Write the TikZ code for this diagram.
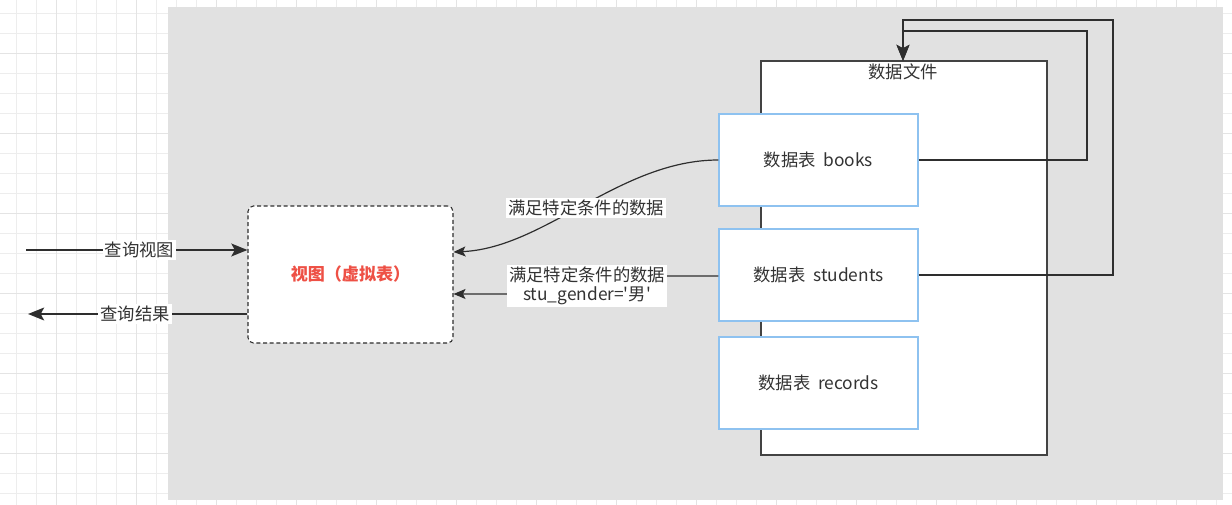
\documentclass[tikz,border=0pt]{standalone}
\usepackage{fontspec}
\newfontfamily\cjkf{Noto Sans CJK SC}
\usetikzlibrary{arrows.meta}
\definecolor{bggray}{HTML}{E1E1E1}
\definecolor{gridc}{HTML}{EDEDED}
\definecolor{gridt}{HTML}{E4E4E4}
\definecolor{ink}{HTML}{2E2E2E}
\definecolor{txt}{HTML}{333333}
\definecolor{tblue}{HTML}{8EC2F0}
\definecolor{redtxt}{HTML}{EE5045}
\tikzset{
  gridline/.style={draw=gridc, line width=0.75pt},
  gridthick/.style={draw=gridt, line width=1.1pt},
  filebox/.style={draw=ink!90, fill=white, line width=0.85pt, minimum width=286*0.75pt, minimum height=394*0.75pt, inner sep=0pt},
  tblbox/.style={draw=tblue, fill=white, line width=0.85pt, minimum width=199*0.75pt, minimum height=92*0.75pt, inner sep=0pt, text=txt},
  viewbox/.style={draw=ink, dashed, dash pattern=on 3pt off 2pt, fill=white, rounded corners=4pt, line width=0.8pt, minimum width=205*0.75pt, minimum height=137*0.75pt, inner sep=0pt},
  thickarr/.style={draw=ink, line width=1.9pt, -{Stealth[length=12pt,width=9.5pt,inset=2.5pt]}},
  thinarr/.style={draw=ink, line width=0.9pt, -{Stealth[length=9pt,width=7.5pt,inset=2pt]}},
  lbl/.style={fill=white, inner sep=1.5pt, text=txt, align=center},
}
\begin{document}
\begin{tikzpicture}[x=0.75pt, y=-0.75pt, font=\cjkf\fontsize{13}{14.5}\selectfont]
\useasboundingbox (0,0) rectangle (1232,505);
% grid background
\fill[white] (0,0) rectangle (1232,505);
\foreach \i in {0,...,61} \draw[gridline] ({16.7+20*\i},0) -- ({16.7+20*\i},505);
\foreach \i in {0,...,25} \draw[gridline] (0,{13.3+20*\i}) -- (1232,{13.3+20*\i});
\foreach \i in {0,...,15} \draw[gridthick] ({56.7+80*\i},0) -- ({56.7+80*\i},505);
\foreach \i in {0,...,6} \draw[gridthick] (0,{53.3+80*\i}) -- (1232,{53.3+80*\i});
% gray panel
\fill[bggray] (168,7) rectangle (1223,500);

% data file container
\node[filebox] (file) at (904,258) {};
\node[text=txt, inner sep=0pt] (filetitle) at (903,72) {数据文件};

% tables
\node[tblbox] (books) at (818.5,160) {数据表\ \ books};
\node[tblbox] (students) at (818.5,275) {数据表\ \ students};
\node[tblbox] (records) at (818.5,383) {数据表\ \ records};

% view
\node[viewbox, text=redtxt, font=\cjkf\fontsize{12.8}{14.5}\selectfont\bfseries] (view) at (350.5,274.5) {视图（虚拟表）};

% loop arrows into data file
\coordinate (filetop) at (903,61);
\coordinate (bk) at (1087,31);
\coordinate (st) at (1113,20);
\draw[thickarr] (books.east) -| (bk) -| (filetop);
\draw[thickarr] (students.east) -| (st) -| (filetop);

% left arrows
\coordinate (qin) at (26,250);
\coordinate (qout) at (28,314);
\draw[thickarr] (qin) -- (view.west |- qin) node[lbl, midway, xshift=2pt] (lq) {查询视图};
\draw[thickarr] (view.west |- qout) -- (qout) node[lbl, midway, xshift=-2pt] (lr) {查询结果};

% curved connector from books
\coordinate (v1) at (view.east |- 0,252);
\draw[thinarr] (books.west) .. controls (620,160) and (545,248) .. (v1);
\node[lbl] (l1) at (586,208) {满足特定条件的数据};

% connector from students
\coordinate (c1) at (660,276);
\coordinate (c2) at (515,294);
\coordinate (v2) at (view.east |- c2);
\draw[thinarr] (students.west |- c1) -- (c1) -- (c2) -- (v2);
\node[lbl] (l2) at (587,286) {满足特定条件的数据\\stu\_gender='男'};
\end{tikzpicture}
\end{document}
